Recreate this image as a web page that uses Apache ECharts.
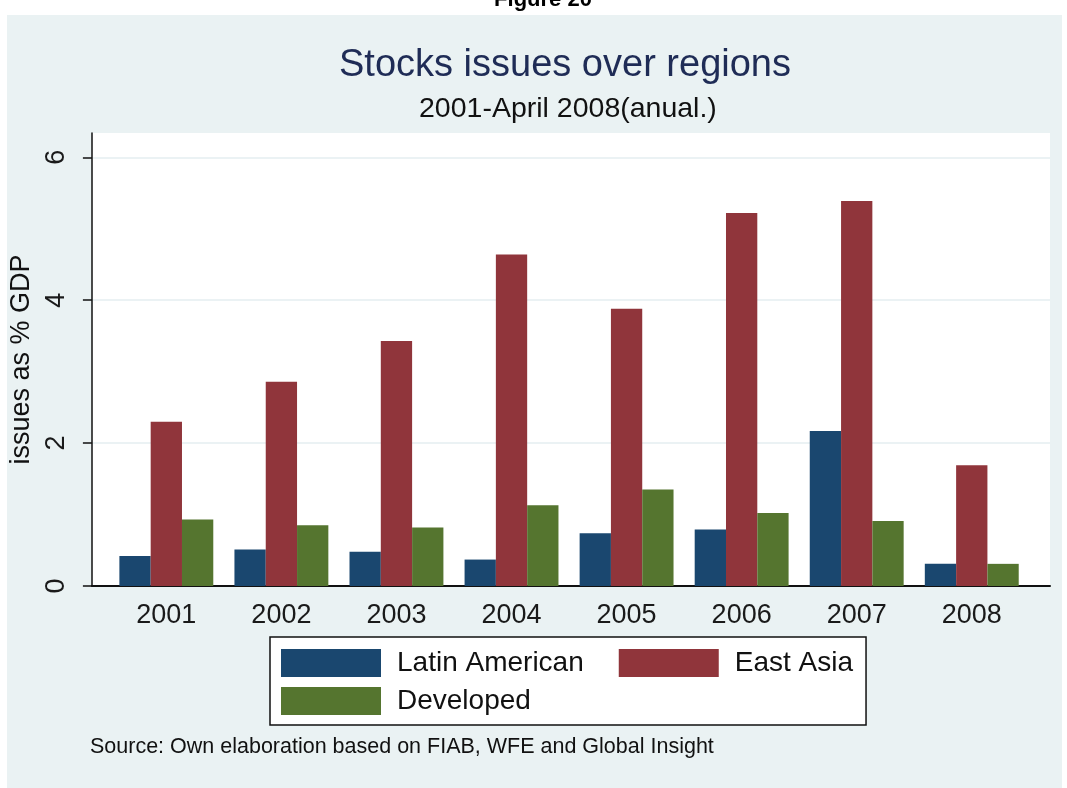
<!DOCTYPE html>
<html>
<head>
<meta charset="utf-8">
<title>Stocks issues over regions</title>
<script src="https://cdn.jsdelivr.net/npm/echarts@6/dist/echarts.min.js"></script>
<style>
  html, body { margin: 0; padding: 0; background: #fff; }
  #main { width: 1067px; height: 788px; }
</style>
</head>
<body>
<div id="main"></div>
<script>
// data (issues as % of GDP)
var categories = ['2001', '2002', '2003', '2004', '2005', '2006', '2007', '2008'];
var latinAmerican = [0.42, 0.51, 0.48, 0.37, 0.74, 0.79, 2.17, 0.31];
var eastAsia = [2.30, 2.86, 3.43, 4.64, 3.88, 5.22, 5.39, 1.69];
var developed = [0.93, 0.85, 0.82, 1.13, 1.35, 1.02, 0.91, 0.31];
var yTicks = [0, 2, 4, 6];

var FONT = '"Liberation Sans", Arial, sans-serif';
var yMax = 6.34;

var myChart = echarts.init(document.getElementById('main'));

myChart.setOption({
  backgroundColor: '#ffffff',
  animation: false,
  title: [
    {
      text: 'Stocks issues over regions',
      left: 339,
      top: 47,
      padding: 0,
      textStyle: { fontFamily: FONT, fontSize: 38, fontWeight: 'normal', color: '#1f2c56' }
    },
    {
      text: '2001-April 2008(anual.)',
      left: 419,
      top: 95,
      padding: 0,
      textStyle: { fontFamily: FONT, fontSize: 28.5, fontWeight: 'normal', color: '#111111' }
    }
  ],
  graphic: [
    {
      type: 'rect',
      z: -10,
      silent: true,
      shape: { x: 7, y: 15, width: 1055, height: 773 },
      style: { fill: '#eaf2f3' }
    },
    {
      type: 'text',
      x: 543,
      y: 11,
      silent: true,
      style: {
        text: 'Figure 20',
        font: 'bold 22px "Liberation Sans Narrow", "Liberation Sans", Arial',
        fill: '#000',
        align: 'center',
        verticalAlign: 'bottom'
      }
    },
    {
      type: 'text',
      x: 90,
      y: 747,
      silent: true,
      style: {
        text: 'Source: Own elaboration based on FIAB, WFE and Global Insight',
        font: '21.5px ' + FONT,
        fill: '#111',
        verticalAlign: 'middle'
      }
    }
  ],
  legend: [
    {
      data: ['Latin American', 'East Asia'],
      left: 270,
      top: 637,
      orient: 'horizontal',
      padding: [12, 13, 48, 11],
      itemGap: 35,
      itemWidth: 100,
      itemHeight: 28,
      icon: 'rect',
      backgroundColor: '#ffffff',
      borderColor: '#111',
      borderWidth: 1.5,
      borderRadius: 0,
      textStyle: { fontFamily: FONT, fontSize: 28, lineHeight: 28, color: '#111', padding: [0, 0, 0, 11] }
    },
    {
      data: ['Developed'],
      left: 281,
      top: 687,
      z: 5,
      padding: 0,
      itemWidth: 100,
      itemHeight: 28,
      icon: 'rect',
      textStyle: { fontFamily: FONT, fontSize: 28, lineHeight: 28, color: '#111', padding: [0, 0, 0, 11] }
    }
  ],
  grid: [
    // plot region (white) with the y axis
    { left: 86, top: 133, width: 964, height: 453, show: true, backgroundColor: '#ffffff', borderWidth: 0 },
    // bar region, narrower like the original
    { left: 108.8, top: 133, width: 920.5, height: 453 }
  ],
  xAxis: [
    {
      gridIndex: 0,
      type: 'value',
      min: 0,
      max: 1,
      axisLine: { show: true, lineStyle: { color: '#111', width: 2 } },
      axisTick: { show: false },
      axisLabel: { show: false },
      splitLine: { show: false }
    },
    {
      gridIndex: 1,
      type: 'category',
      data: categories,
      axisLine: { show: false },
      axisTick: { show: false },
      axisLabel: { margin: 16, fontFamily: FONT, fontSize: 27, color: '#1a1a1a' }
    }
  ],
  yAxis: [
    {
      gridIndex: 0,
      type: 'value',
      min: 0,
      max: yMax,
      interval: 2,
      name: 'issues as % GDP',
      nameLocation: 'middle',
      nameGap: 34,
      nameTextStyle: { fontFamily: FONT, fontSize: 27, color: '#111' },
      axisLine: { show: true, lineStyle: { color: '#111', width: 1.5 } },
      axisTick: { show: true, length: 9, customValues: yTicks, lineStyle: { color: '#111', width: 1.5 } },
      axisLabel: { rotate: 90, margin: 22, customValues: yTicks, fontFamily: FONT, fontSize: 27, color: '#1a1a1a' },
      splitLine: { show: true, lineStyle: { color: '#e4eef0', width: 1.5 } }
    },
    {
      gridIndex: 1,
      type: 'value',
      min: 0,
      max: yMax,
      show: false
    }
  ],
  series: [
    {
      name: 'Latin American',
      type: 'bar',
      xAxisIndex: 1,
      yAxisIndex: 1,
      barWidth: 31.3,
      barGap: '0%',
      itemStyle: { color: '#1a476f' },
      data: latinAmerican
    },
    {
      name: 'East Asia',
      type: 'bar',
      xAxisIndex: 1,
      yAxisIndex: 1,
      barWidth: 31.3,
      barGap: '0%',
      itemStyle: { color: '#90353b' },
      data: eastAsia
    },
    {
      name: 'Developed',
      type: 'bar',
      xAxisIndex: 1,
      yAxisIndex: 1,
      barWidth: 31.3,
      barGap: '0%',
      itemStyle: { color: '#55752f' },
      data: developed
    }
  ]
});
</script>
</body>
</html>
